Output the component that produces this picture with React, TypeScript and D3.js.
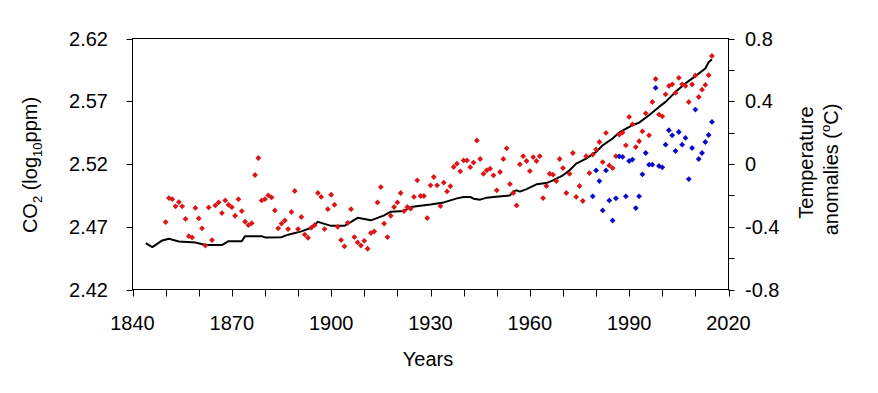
import React from "react";
import * as d3 from "d3";

// CO2 (log10 ppm) line
const co2Years = [1844, 1846, 1849, 1851, 1854, 1859, 1862, 1867, 1869, 1873, 1874, 1879, 1880, 1885, 1887, 1891, 1894, 1896, 1900, 1904, 1908, 1912, 1916, 1918, 1922, 1924, 1930, 1934, 1938, 1940, 1942, 1943, 1945, 1947, 1949, 1954, 1955, 1956, 1957, 1959, 1962, 1965, 1967, 1970, 1972, 1974, 1977, 1980, 1982, 1985, 1987, 1991, 1993, 1996, 1999, 2001, 2004, 2007, 2010, 2013, 2014, 2015];
const co2Values = [2.4569, 2.4538, 2.4591, 2.4605, 2.4583, 2.4575, 2.4554, 2.4554, 2.4585, 2.4585, 2.4625, 2.4625, 2.4615, 2.4617, 2.4637, 2.4663, 2.4692, 2.4739, 2.4707, 2.4707, 2.4771, 2.4751, 2.4791, 2.482, 2.4826, 2.4857, 2.4877, 2.4894, 2.4926, 2.4937, 2.4937, 2.4924, 2.4916, 2.4932, 2.4937, 2.495, 2.4982, 2.499, 2.498, 2.5, 2.5038, 2.5048, 2.507, 2.511, 2.515, 2.5203, 2.5243, 2.5296, 2.5349, 2.5403, 2.5451, 2.5509, 2.553, 2.5589, 2.5655, 2.5695, 2.5775, 2.5842, 2.59, 2.5961, 2.601, 2.6035];

// Temperature anomalies (red), annual from 1850
const redStartYear = 1850;
const redValues = [
  -0.37, -0.217, -0.224, -0.27, -0.243, -0.27, -0.35, -0.46, -0.468, -0.28,
  -0.347, -0.41, -0.52, -0.277, -0.485, -0.264, -0.245, -0.313, -0.232, -0.26,
  -0.275, -0.33, -0.224, -0.3, -0.368, -0.39, -0.377, -0.07, 0.038, -0.232,
  -0.224, -0.2, -0.213, -0.296, -0.41, -0.38, -0.36, -0.415, -0.306, -0.172,
  -0.415, -0.338, -0.45, -0.47, -0.406, -0.39, -0.185, -0.21, -0.415, -0.288,
  -0.196, -0.26, -0.4, -0.485, -0.525, -0.375, -0.288, -0.466, -0.5, -0.52,
  -0.49, -0.54, -0.44, -0.43, -0.245, -0.147, -0.38, -0.466, -0.33, -0.274,
  -0.245, -0.185, -0.3, -0.274, -0.285, -0.21, -0.104, -0.204, -0.204, -0.345,
  -0.136, -0.083, -0.136, -0.268, -0.119, -0.175, -0.142, -0.019, 0.002, -0.047,
  0.023, 0.023, -0.02, 0.009, 0.15, 0.032, -0.062, -0.04, -0.03, -0.072,
  -0.168, -0.051, 0.032, 0.1, -0.128, -0.185, -0.264, -0.002, 0.05, 0.019,
  -0.045, 0.044, 0.019, 0.05, -0.217, -0.14, -0.062, -0.068, -0.109, 0.032,
  -0.026, -0.185, -0.062, 0.07, -0.21, -0.14, -0.236, 0.05, -0.058, 0.06,
  0.093, 0.14, 0.012, 0.198, -0.009, -0.026, 0.05, 0.187, 0.2, 0.119,
  0.3, 0.253, 0.108, 0.145, 0.208, 0.323, 0.183, 0.395, 0.542, 0.315,
  0.304, 0.444, 0.498, 0.508, 0.453, 0.549, 0.508, 0.498, 0.395, 0.508,
  0.564, 0.427, 0.474, 0.504, 0.566, 0.689,
];

// Temperature anomalies (blue), annual from 1979
const blueStartYear = 1979;
const blueValues = [
  -0.206, -0.041, -0.109, -0.296, -0.041, -0.232, -0.36, -0.219, 0.049, 0.045,
  -0.206, 0.019, 0.028, -0.281, -0.206, -0.066, 0.07, -0.004, -0.004, 0.485,
  -0.013, -0.021, 0.123, 0.215, 0.183, 0.083, 0.204, 0.123, 0.166, -0.096,
  0.102, 0.347, 0.032, 0.07, 0.14, 0.185, 0.268,
];

const xTickYears = [1840, 1850, 1860, 1870, 1880, 1890, 1900, 1910, 1920, 1930, 1940, 1950, 1960, 1970, 1980, 1990, 2000, 2010, 2020];
const xLabelYears = [1840, 1870, 1900, 1930, 1960, 1990, 2020];
const leftTicks = [2.42, 2.47, 2.52, 2.57, 2.62];
const rightTicks = [-0.8, -0.6, -0.4, -0.2, 0, 0.2, 0.4, 0.6, 0.8];
const rightLabels = [-0.8, -0.4, 0, 0.4, 0.8];

const W = 878;
const H = 393;
const L = 132.5, R = 728.5, T = 38.5, B = 289.5;
const FONT = "'Liberation Sans', Arial, sans-serif";

export default function App() {
  const x = d3.scaleLinear().domain([1840, 2020]).range([L, R]);
  const yL = d3.scaleLinear().domain([2.42, 2.62]).range([B, T]);
  const yR = d3.scaleLinear().domain([-0.8, 0.8]).range([B, T]);

  const co2 = co2Years.map((yr, i) => [yr, co2Values[i]] as [number, number]);
  const lineGen = d3.line<[number, number]>().x((d) => x(d[0])).y((d) => yL(d[1]));
  const diamond = d3.symbol().type(d3.symbolSquare).size(17)() as string;

  const red = redValues.map((v, i) => [redStartYear + i, v]);
  const blue = blueValues.map((v, i) => [blueStartYear + i, v]);

  return (
    <svg width={W} height={H} style={{ position: "absolute", left: 0, top: 0, background: "#fff" }} fontFamily={FONT}>
      <rect x={0} y={0} width={W} height={H} fill="#fff" />
      {/* frame */}
      <rect x={L} y={T} width={R - L} height={B - T} fill="none" stroke="#000" strokeWidth={1} />
      {/* bottom ticks */}
      {xTickYears.map((yr) => (
        <line key={"xt" + yr} x1={Math.round(x(yr)) + 0.5} x2={Math.round(x(yr)) + 0.5} y1={B} y2={B + 7} stroke="#000" />
      ))}
      {xLabelYears.map((yr) => (
        <text key={"xl" + yr} x={x(yr)} y={329.5} textAnchor="middle" fontSize={20} fill="#000">
          {yr}
        </text>
      ))}
      {/* left ticks */}
      {leftTicks.map((v) => (
        <line key={"lt" + v} x1={L - 6} x2={L} y1={Math.round(yL(v)) + 0.5} y2={Math.round(yL(v)) + 0.5} stroke="#000" />
      ))}
      {leftTicks.map((v) => (
        <text key={"ll" + v} x={108} y={yL(v) + 7} textAnchor="end" fontSize={20} fill="#000">
          {v.toFixed(2)}
        </text>
      ))}
      {/* right ticks */}
      {rightTicks.map((v) => (
        <line key={"rt" + v} x1={R} x2={R + 6} y1={Math.round(yR(v)) + 0.5} y2={Math.round(yR(v)) + 0.5} stroke="#000" />
      ))}
      {rightLabels.map((v) => (
        <text key={"rl" + v} x={745} y={yR(v) + 7} textAnchor="start" fontSize={20} fill="#000">
          {v === 0 ? "0" : String(v)}
        </text>
      ))}
      {/* titles */}
      <text x={428} y={366} textAnchor="middle" fontSize={20} fill="#000">Years</text>
      <text transform="translate(37,165) rotate(-90)" textAnchor="middle" fontSize={20} fill="#000">
        CO<tspan fontSize={13} dy={5}>2</tspan>
        <tspan dy={-5}> (log</tspan>
        <tspan fontSize={13} dy={5}>10</tspan>
        <tspan dy={-5}>ppm)</tspan>
      </text>
      <text transform="translate(813,162.5) rotate(-90)" textAnchor="middle" fontSize={20} fill="#000">
        Temperature
      </text>
      <text transform="translate(838,169.5) rotate(-90)" textAnchor="middle" fontSize={20} fill="#000">
        anomalies (<tspan fontSize={13} dy={-8}>o</tspan>
        <tspan dy={8}>C)</tspan>
      </text>
      {/* CO2 line */}
      <path d={lineGen(co2) as string} fill="none" stroke="#000" strokeWidth={2} strokeLinejoin="round" />
      {/* red points */}
      {red.map((d) => (
        <path key={"r" + d[0]} d={diamond} transform={`translate(${x(d[0])},${yR(d[1])}) rotate(45)`} fill="#dc1616" />
      ))}
      {/* blue points */}
      {blue.map((d) => (
        <path key={"b" + d[0]} d={diamond} transform={`translate(${x(d[0])},${yR(d[1])}) rotate(45)`} fill="#0a0ac8" />
      ))}
    </svg>
  );
}
